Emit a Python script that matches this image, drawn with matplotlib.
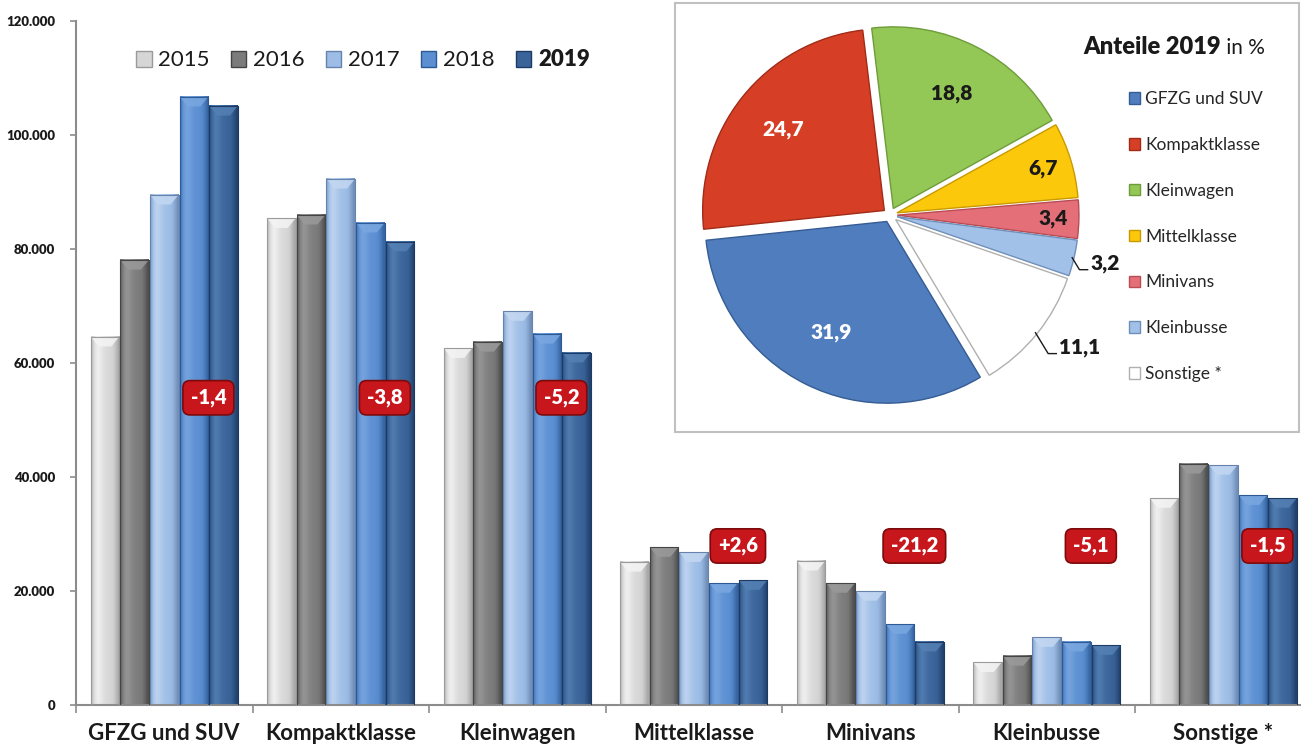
import matplotlib
matplotlib.use("Agg")
import matplotlib.pyplot as plt
import numpy as np
from matplotlib.patches import Patch, Rectangle, Polygon
from matplotlib.colors import LinearSegmentedColormap

plt.rcParams['font.family'] = ['Lato', 'DejaVu Sans']

# --- data -------------------------------------------------------------
categories = ['GFZG und SUV', 'Kompaktklasse', 'Kleinwagen', 'Mittelklasse',
              'Minivans', 'Kleinbusse', 'Sonstige *']
years = ['2015', '2016', '2017', '2018', '2019']
v2015 = [64600, 85400, 62600, 25100, 25300, 7500, 36300]
v2016 = [78100, 86000, 63700, 27700, 21400, 8600, 42300]
v2017 = [89500, 92300, 69100, 26800, 20000, 11900, 42100]
v2018 = [106700, 84600, 65100, 21400, 14200, 11100, 36800]
v2019 = [105100, 81300, 61800, 21900, 11100, 10500, 36300]
changes = ['-1,4', '-3,8', '-5,2', '+2,6', '-21,2', '-5,1', '-1,5']

share_names = ['GFZG und SUV', 'Kompaktklasse', 'Kleinwagen', 'Mittelklasse',
               'Minivans', 'Kleinbusse', 'Sonstige *']
shares = [31.9, 24.7, 18.8, 6.7, 3.4, 3.2, 11.1]
share_txt = ['31,9', '24,7', '18,8', '6,7', '3,4', '3,2', '11,1']

# --- styles -----------------------------------------------------------
# (base, light, dark) per year
bar_cols = [('#d6d6d6', '#f4f4f4', '#9a9a9a'),
            ('#7b7b7b', '#9a9a9a', '#444444'),
            ('#9dbde6', '#c3d7f1', '#6583ad'),
            ('#5b8fd2', '#7aa7e0', '#2d5a94'),
            ('#3a6499', '#5480b4', '#1c3a63')]
pie_cols = ['#4f7dbd', '#d63f26', '#93c756', '#fcc80c', '#e56f78', '#a2c1e8', '#ffffff']
pie_edge = ['#355c93', '#a12b17', '#6e9c3a', '#c89a00', '#b84c55', '#6f8fba', '#b0b0b0']

W, H = 1301, 749
def fx(p): return p / W
def fy(p): return 1 - p / H

fig = plt.figure(figsize=(13.01, 7.49), dpi=100)

# --- bar chart --------------------------------------------------------
ax = fig.add_axes([fx(76), fy(705), fx(1301) - fx(76), fy(21) - fy(705)])
x = np.arange(len(categories)) + 0.5
pitch, bw = 0.168, 0.163
profile = np.array([0.35, 0.7, 0.9, 0.85, 0.7, 0.6, 0.55, 0.5, 0.45, 0.3, 0.12])
for i, vals in enumerate([v2015, v2016, v2017, v2018, v2019]):
    base, light, dark = bar_cols[i]
    cmap = LinearSegmentedColormap.from_list('c%d' % i, [dark, base, light])
    bars = ax.bar(x + (i - 2) * pitch, vals, bw, color=base, edgecolor=dark,
                  linewidth=0.6, zorder=2)
    for b in bars:
        bx, bwid, bh = b.get_x(), b.get_width(), b.get_height()
        ax.imshow(profile[None, :], extent=(bx, bx + bwid, 0, bh), cmap=cmap,
                  vmin=0, vmax=1, aspect='auto', interpolation='bilinear', zorder=2.5)
        d = 1700
        ax.add_patch(Polygon([(bx, bh), (bx + bwid, bh), (bx + 0.72 * bwid, bh - d),
                              (bx + 0.28 * bwid, bh - d)], closed=True,
                             fc=light, ec='none', alpha=0.85, zorder=2.7))
        ax.add_patch(Rectangle((bx, 0), bwid, bh, fill=False, ec=dark, lw=0.8, zorder=2.8))

ax.set_xlim(0, 1225 / 176.5)
ax.set_ylim(0, 120000)
ax.set_xticks(np.arange(0, 7))
ax.set_xticklabels([])
ax.set_xticks(x, minor=True)
ax.set_xticklabels(categories, minor=True, fontsize=16, fontweight='bold', color='#1a1a1a')
ax.tick_params(axis='x', which='major', length=6, color='#8c8c8c', width=1.2)
ax.tick_params(axis='x', which='minor', length=0, pad=13)
yt = np.arange(0, 120001, 20000)
ax.set_yticks(yt)
ax.set_yticklabels([f'{v:,.0f}'.replace(',', '.') for v in yt], fontsize=9.5,
                   fontweight='heavy', color='#1a1a1a')
ax.tick_params(axis='y', length=4, color='#8c8c8c', width=1.2, pad=11)
for s in ['top', 'right']:
    ax.spines[s].set_visible(False)
for s in ['left', 'bottom']:
    ax.spines[s].set_color('#8c8c8c')
    ax.spines[s].set_linewidth(1.5)

badge_y = [53900] * 3 + [27900] * 4
for j, txt in enumerate(changes):
    ax.text(j + 0.75, badge_y[j], txt, ha='center', va='center', color='white',
            fontsize=14.5, fontweight='heavy', zorder=5,
            bbox=dict(boxstyle='round,pad=0.38,rounding_size=0.35', fc='#c8161d',
                      ec='#7d0a0a', lw=1.2))

leg = fig.legend([Patch(fc=c[0], ec=c[2]) for c in bar_cols], years,
                 loc='center left', bbox_to_anchor=(fx(136), fy(60)), ncol=5,
                 frameon=False, fontsize=16, handlelength=0.7, handleheight=0.7,
                 handletextpad=0.3, columnspacing=0.95, borderpad=0, borderaxespad=0)
for t in leg.get_texts():
    t.set_color('#1a1a1a')
leg.get_texts()[-1].set_fontweight('heavy')

# --- pie inset --------------------------------------------------------
fig.add_artist(Rectangle((fx(675), fy(432)), fx(1299) - fx(675), fy(3) - fy(432),
                         transform=fig.transFigure, fc='white', ec='#c0c0c0',
                         lw=1.5, zorder=1))

pax = fig.add_axes([fx(672), fy(433), 436 / W, 436 / H], zorder=3)
wedges, _ = pax.pie(shares, colors=pie_cols, startangle=-59, counterclock=False,
                    explode=[0.04] * 7)
for w, ec in zip(wedges, pie_edge):
    w.set_edgecolor(ec)
    w.set_linewidth(1.0)
pax.set_xlim(-1.2, 1.2)
pax.set_ylim(-1.2, 1.2)
pax.set_aspect('equal')
pax.axis('off')

inside = {0: (0.68, 'white'), 1: (0.71, 'white'), 2: (0.71, '#1a1a1a'),
          3: (0.84, '#1a1a1a'), 4: (0.86, '#1a1a1a')}
for k, w in enumerate(wedges):
    a = np.deg2rad((w.theta1 + w.theta2) / 2)
    cx, cy = w.center
    if k in inside:
        r, col = inside[k]
        pax.text(cx + r * np.cos(a), cy + r * np.sin(a), share_txt[k], ha='center',
                 va='center', fontsize=15, fontweight='heavy', color=col)
    else:
        sx, sy = cx + 0.99 * np.cos(a), cy + 0.99 * np.sin(a)
        ex, ey = (0.04, -0.066) if k == 5 else (0.07, -0.115)
        lx = [sx, sx + ex, sx + ex + 0.045]
        ly = [sy, sy + ey, sy + ey]
        pax.plot(lx, ly, color='#1a1a1a', lw=1, clip_on=False)
        pax.text(lx[-1] + 0.015, ly[-1] + 0.035, share_txt[k], ha='left', va='center',
                 fontsize=15, fontweight='heavy', color='#1a1a1a', clip_on=False)

t1 = fig.text(fx(1083), fy(58), 'Anteile 2019', fontsize=17, fontweight='heavy',
              ha='left', va='bottom', color='#1a1a1a', zorder=6)
pax.annotate(' in %', xy=(1, 0), xycoords=t1, ha='left', va='bottom', fontsize=15,
             color='#1a1a1a', annotation_clip=False)

pleg = fig.legend([Patch(fc=c, ec=e) for c, e in zip(pie_cols, pie_edge)], share_names,
                  loc='upper left', bbox_to_anchor=(fx(1129), fy(91)), frameon=False,
                  fontsize=12.5, handlelength=0.65, handleheight=0.65, handletextpad=0.3,
                  labelspacing=1.72, borderpad=0, borderaxespad=0)
for t in pleg.get_texts():
    t.set_color('#262626')

fig.savefig('out.png', dpi=100)
